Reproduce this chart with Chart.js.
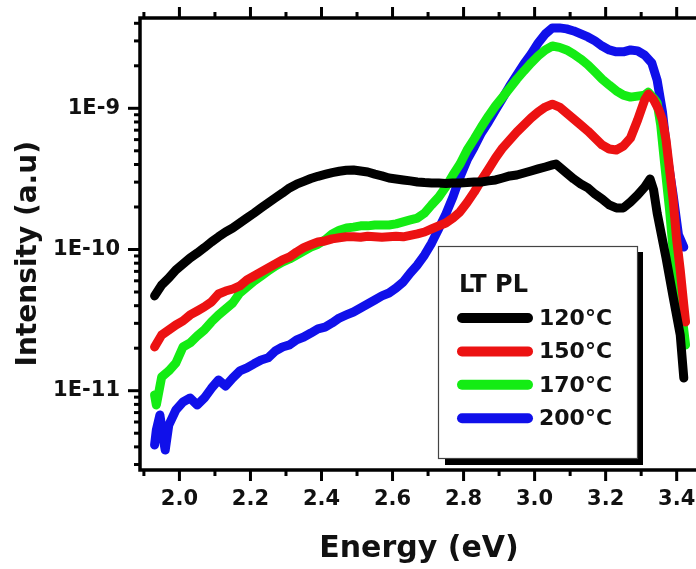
<!DOCTYPE html>
<html><head><meta charset="utf-8">
<script src="https://cdn.jsdelivr.net/npm/chart.js@4.4.1/dist/chart.umd.min.js"></script>
<style>html,body{margin:0;padding:0;background:#fff;overflow:hidden}canvas{display:block}</style>
</head><body>
<canvas id="c" width="704" height="569"></canvas>
<script>
const seriesLabels = ['120°C', '150°C', '170°C', '200°C'];
const seriesColors = ['#000000', '#ec1212', '#14ec14', '#1010ea'];
const legendTitle = 'LT PL';
const xTitle = 'Energy (eV)';
const yTitle = 'Intensity (a.u)';

const e120 = [1.93,1.95,1.97,1.99,2.01,2.03,2.05,2.07,2.09,2.11,2.13,2.15,2.17,2.19,2.21,2.23,2.25,2.27,2.29,2.31,2.33,2.35,2.37,2.39,2.41,2.43,2.45,2.47,2.49,2.51,2.53,2.55,2.57,2.59,2.61,2.63,2.65,2.67,2.69,2.71,2.73,2.75,2.77,2.79,2.81,2.83,2.85,2.87,2.89,2.91,2.93,2.95,2.97,2.99,3.01,3.03,3.05,3.06,3.07,3.09,3.11,3.13,3.15,3.17,3.19,3.21,3.23,3.25,3.27,3.29,3.31,3.325,3.335,3.345,3.37,3.39,3.41,3.42];
const i120 = [4.69e-11,5.61e-11,6.28e-11,7.16e-11,7.89e-11,8.71e-11,9.44e-11,1.03e-10,1.13e-10,1.23e-10,1.33e-10,1.42e-10,1.54e-10,1.67e-10,1.81e-10,1.97e-10,2.14e-10,2.32e-10,2.51e-10,2.73e-10,2.90e-10,3.04e-10,3.18e-10,3.30e-10,3.40e-10,3.50e-10,3.58e-10,3.64e-10,3.66e-10,3.60e-10,3.54e-10,3.42e-10,3.32e-10,3.21e-10,3.16e-10,3.11e-10,3.06e-10,3.01e-10,2.98e-10,2.96e-10,2.96e-10,2.93e-10,2.96e-10,2.96e-10,2.98e-10,3.01e-10,3.01e-10,3.06e-10,3.11e-10,3.21e-10,3.32e-10,3.37e-10,3.48e-10,3.60e-10,3.72e-10,3.84e-10,3.97e-10,4.03e-10,3.84e-10,3.48e-10,3.16e-10,2.91e-10,2.73e-10,2.47e-10,2.28e-10,2.07e-10,1.97e-10,1.97e-10,2.17e-10,2.43e-10,2.77e-10,3.16e-10,2.64e-10,1.81e-10,8.71e-11,4.61e-11,2.48e-11,1.23e-11];

const e150 = [1.93,1.95,1.97,1.99,2.01,2.03,2.05,2.07,2.09,2.11,2.13,2.15,2.17,2.19,2.21,2.23,2.25,2.27,2.29,2.31,2.33,2.35,2.37,2.39,2.41,2.43,2.45,2.47,2.49,2.51,2.53,2.55,2.57,2.59,2.61,2.63,2.65,2.67,2.69,2.71,2.73,2.75,2.77,2.79,2.81,2.83,2.85,2.87,2.89,2.91,2.93,2.95,2.97,2.99,3.01,3.03,3.05,3.07,3.09,3.11,3.13,3.15,3.17,3.19,3.21,3.23,3.25,3.27,3.29,3.31,3.32,3.335,3.35,3.36,3.37,3.38,3.39,3.40,3.41,3.42,3.425];
const i150 = [2.04e-11,2.48e-11,2.69e-11,2.92e-11,3.12e-11,3.44e-11,3.67e-11,3.92e-11,4.25e-11,4.84e-11,5.08e-11,5.25e-11,5.52e-11,6.08e-11,6.49e-11,6.93e-11,7.40e-11,7.89e-11,8.43e-11,8.85e-11,9.60e-11,1.03e-10,1.08e-10,1.13e-10,1.15e-10,1.19e-10,1.21e-10,1.23e-10,1.23e-10,1.22e-10,1.24e-10,1.23e-10,1.22e-10,1.23e-10,1.24e-10,1.23e-10,1.26e-10,1.29e-10,1.33e-10,1.40e-10,1.47e-10,1.54e-10,1.67e-10,1.85e-10,2.15e-10,2.55e-10,3.10e-10,3.70e-10,4.45e-10,5.24e-10,5.96e-10,6.79e-10,7.62e-10,8.54e-10,9.42e-10,1.02e-9,1.07e-9,1.02e-9,9.27e-10,8.40e-10,7.62e-10,6.90e-10,6.16e-10,5.50e-10,5.15e-10,5.07e-10,5.41e-10,6.16e-10,8.26e-10,1.15e-9,1.26e-9,1.15e-9,9.72e-10,8.26e-10,5.96e-10,3.66e-10,2.24e-10,1.17e-10,7.16e-11,4.05e-11,3.07e-11];

const e170 = [1.93,1.935,1.95,1.97,1.99,2.01,2.03,2.05,2.07,2.09,2.11,2.13,2.15,2.17,2.19,2.21,2.23,2.25,2.27,2.29,2.31,2.33,2.35,2.37,2.39,2.41,2.43,2.45,2.47,2.49,2.51,2.53,2.55,2.57,2.59,2.61,2.63,2.65,2.67,2.69,2.71,2.73,2.75,2.77,2.79,2.81,2.83,2.85,2.87,2.89,2.91,2.93,2.95,2.97,2.99,3.01,3.03,3.05,3.07,3.09,3.11,3.13,3.15,3.17,3.19,3.21,3.23,3.25,3.27,3.29,3.31,3.32,3.335,3.345,3.355,3.365,3.38,3.39,3.40,3.415,3.425];
const i170 = [9.33e-12,7.92e-12,1.25e-11,1.38e-11,1.57e-11,2.04e-11,2.18e-11,2.44e-11,2.69e-11,3.07e-11,3.44e-11,3.79e-11,4.18e-11,4.92e-11,5.42e-11,5.98e-11,6.49e-11,7.05e-11,7.64e-11,8.15e-11,8.57e-11,9.14e-11,9.75e-11,1.04e-10,1.09e-10,1.17e-10,1.29e-10,1.37e-10,1.42e-10,1.44e-10,1.47e-10,1.47e-10,1.49e-10,1.49e-10,1.49e-10,1.52e-10,1.57e-10,1.62e-10,1.67e-10,1.81e-10,2.07e-10,2.35e-10,2.77e-10,3.37e-10,4.03e-10,5.07e-10,6.07e-10,7.37e-10,8.81e-10,1.04e-9,1.20e-9,1.39e-9,1.61e-9,1.84e-9,2.09e-9,2.35e-9,2.59e-9,2.76e-9,2.70e-9,2.59e-9,2.42e-9,2.23e-9,2.03e-9,1.81e-9,1.61e-9,1.46e-9,1.33e-9,1.24e-9,1.20e-9,1.22e-9,1.24e-9,1.30e-9,1.18e-9,1.09e-9,7.62e-10,4.31e-10,1.90e-10,9.91e-11,6.08e-11,3.44e-11,2.11e-11];

const e200 = [1.93,1.935,1.945,1.955,1.96,1.97,1.99,2.01,2.03,2.05,2.07,2.09,2.11,2.13,2.15,2.17,2.19,2.21,2.23,2.25,2.27,2.29,2.31,2.33,2.35,2.37,2.39,2.41,2.43,2.45,2.47,2.49,2.51,2.53,2.55,2.57,2.59,2.61,2.63,2.65,2.67,2.69,2.71,2.73,2.75,2.77,2.79,2.81,2.83,2.85,2.87,2.89,2.91,2.93,2.95,2.97,2.99,3.01,3.03,3.05,3.07,3.09,3.11,3.13,3.15,3.17,3.19,3.21,3.23,3.25,3.27,3.29,3.31,3.33,3.345,3.36,3.375,3.39,3.405,3.42];
const i200 = [4.12e-12,5.27e-12,6.73e-12,4.48e-12,3.80e-12,5.71e-12,7.30e-12,8.32e-12,8.87e-12,7.92e-12,8.87e-12,1.04e-11,1.19e-11,1.08e-11,1.23e-11,1.38e-11,1.45e-11,1.55e-11,1.65e-11,1.71e-11,1.91e-11,2.04e-11,2.11e-11,2.29e-11,2.40e-11,2.56e-11,2.74e-11,2.82e-11,3.02e-11,3.27e-11,3.44e-11,3.61e-11,3.85e-11,4.11e-11,4.39e-11,4.69e-11,4.92e-11,5.34e-11,5.89e-11,6.82e-11,7.77e-11,9.14e-11,1.11e-10,1.40e-10,1.78e-10,2.35e-10,3.26e-10,4.31e-10,5.32e-10,6.68e-10,8.00e-10,9.72e-10,1.18e-9,1.44e-9,1.72e-9,2.06e-9,2.42e-9,2.90e-9,3.36e-9,3.71e-9,3.71e-9,3.65e-9,3.53e-9,3.36e-9,3.20e-9,3.00e-9,2.76e-9,2.59e-9,2.51e-9,2.51e-9,2.59e-9,2.55e-9,2.38e-9,2.09e-9,1.58e-9,9.42e-10,4.31e-10,2.43e-10,1.27e-10,1.04e-10];

const energies = [e120, e150, e170, e200];
const intensities = [i120, i150, i170, i200];

const xMin = 1.889, xMax = 3.46;
const yMin = 2.744e-12, yMax = 4.36e-9;

Chart.defaults.font.family = '"DejaVu Sans", sans-serif';
Chart.defaults.color = '#111';

const framePlugin = {
  id: 'frame',
  afterDraw(chart) {
    const {ctx, chartArea: a, scales: {x, y}} = chart;
    ctx.save();
    ctx.strokeStyle = '#000';
    ctx.lineWidth = 3.5;
    ctx.beginPath();
    ctx.moveTo(a.right + 4, a.top); ctx.lineTo(a.left, a.top);
    ctx.lineTo(a.left, a.bottom); ctx.lineTo(a.right + 4, a.bottom);
    ctx.stroke();
    ctx.lineWidth = 3;
    for (let k = 19; k <= 34; k++) {
      const v = k / 10;
      const px = x.getPixelForValue(v);
      const len = (k % 2 === 0) ? 11 : 6;
      ctx.beginPath();
      ctx.moveTo(px, a.top); ctx.lineTo(px, a.top - len);
      ctx.moveTo(px, a.bottom); ctx.lineTo(px, a.bottom + len);
      ctx.stroke();
    }
    for (let ex = -12; ex <= -9; ex++) {
      for (let m = 1; m <= 9; m++) {
        const v = m * Math.pow(10, ex);
        if (v < yMin || v > yMax) continue;
        const py = y.getPixelForValue(v);
        const len = m === 1 ? 12 : 6;
        ctx.beginPath();
        ctx.moveTo(a.left, py); ctx.lineTo(a.left - len, py);
        ctx.stroke();
      }
    }
    ctx.restore();
  }
};

const legendPlugin = {
  id: 'ltpl',
  afterDraw(chart) {
    const ctx = chart.ctx;
    ctx.save();
    ctx.fillStyle = '#000';
    ctx.fillRect(445, 252, 198, 213);
    ctx.fillStyle = '#fff';
    ctx.fillRect(438, 246, 199, 212);
    ctx.strokeStyle = '#444';
    ctx.lineWidth = 1.2;
    ctx.strokeRect(438.5, 246.5, 199, 212);
    ctx.fillStyle = '#111';
    ctx.textAlign = 'left';
    ctx.textBaseline = 'middle';
    ctx.font = 'bold 24px "DejaVu Sans"';
    ctx.fillText(legendTitle, 459, 286);
    chart.data.datasets.forEach((ds, i) => {
      const yy = 318 + i * 33.4;
      ctx.strokeStyle = ds.borderColor;
      ctx.lineWidth = 10;
      ctx.lineCap = 'round';
      ctx.beginPath();
      ctx.moveTo(462, yy); ctx.lineTo(528, yy);
      ctx.stroke();
      ctx.font = 'bold 22px "DejaVu Sans"';
      ctx.fillStyle = '#111';
      ctx.fillText(ds.label, 539, yy + 1);
    });
    ctx.restore();
  }
};

const datasets = seriesLabels.map((lab, s) => ({
  label: lab,
  data: energies[s].map((e, i) => ({x: e, y: intensities[s][i]})),
  borderColor: seriesColors[s],
  backgroundColor: seriesColors[s],
  borderWidth: 9,
  pointRadius: 0,
  tension: 0,
  fill: false
}));

new Chart(document.getElementById('c'), {
  type: 'line',
  data: {datasets},
  plugins: [framePlugin, legendPlugin],
  options: {
    responsive: false,
    animation: false,
    devicePixelRatio: 1,
    layout: {padding: {top: 18, right: 6, left: 0, bottom: 0}},
    plugins: {legend: {display: false}, tooltip: {enabled: false}},
    elements: {line: {borderJoinStyle: 'round', borderCapStyle: 'round'}},
    scales: {
      x: {
        type: 'linear', min: xMin, max: xMax,
        grid: {display: false, drawTicks: false},
        border: {display: false},
        ticks: {stepSize: 0.2, includeBounds: false, autoSkip: false, maxRotation: 0, padding: 17,
          color: '#111', font: {size: 21, weight: 'bold'}, callback: v => Number(v).toFixed(1)},
        title: {display: true, text: xTitle, color: '#111', font: {size: 30, weight: 'bold'}, padding: {top: 0, bottom: 2}},
        afterFit(s) { s.height = 99; s.paddingLeft = 0; s.paddingRight = 0; }
      },
      y: {
        type: 'logarithmic', min: yMin, max: yMax,
        grid: {display: false, drawTicks: false},
        border: {display: false},
        ticks: {autoSkip: false, padding: 20, color: '#111', font: {size: 21, weight: 'bold'},
          callback: v => { const l = Math.log10(v); const r = Math.round(l); return Math.abs(l - r) < 1e-6 ? '1E' + r : ''; }},
        title: {display: true, text: yTitle + '  ', color: '#111', font: {size: 28, weight: 'bold'}, padding: {top: 12, bottom: 0}},
        afterFit(s) { s.width = 140; s.paddingTop = 0; s.paddingBottom = 0; }
      }
    }
  }
});
</script>
</body></html>
